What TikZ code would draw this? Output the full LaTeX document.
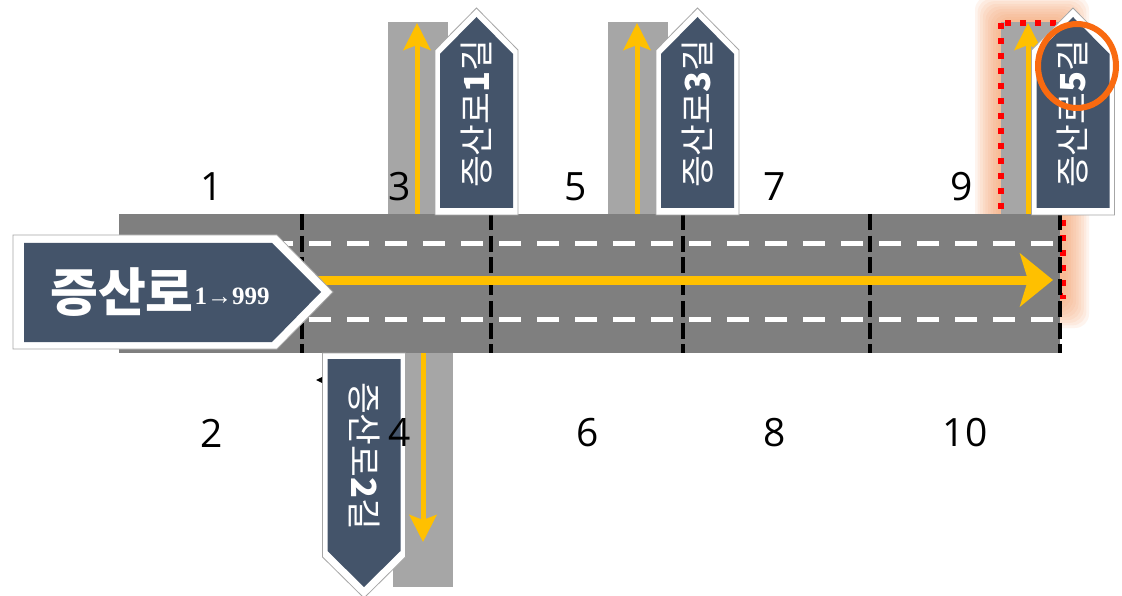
\documentclass[tikz,border=0pt]{standalone}
\usepackage{fontspec}
\newfontfamily\kr{Noto Sans CJK KR}
\newfontfamily\numfont{Open Sans}
\newfontfamily\serifb{Liberation Serif}
\usetikzlibrary{arrows.meta}
\definecolor{signblue}{HTML}{44546A}
\definecolor{roadgray}{HTML}{7F7F7F}
\definecolor{sidegray}{HTML}{A6A6A6}
\definecolor{laneyellow}{HTML}{FFC000}
\definecolor{glowcol}{HTML}{F7A26B}
\definecolor{ringorange}{HTML}{F96A10}
\begin{document}
\begin{tikzpicture}[x=1pt,y=-1pt,
  signouter/.style={fill=white, draw=black!35, line width=0.8pt},
  signinner/.style={fill=signblue},
  sidestreet/.style={fill=sidegray},
  mainroad/.style={fill=roadgray},
  lanemark/.style={draw=white, line width=5pt, dash pattern=on 22pt off 16pt},
  blockline/.style={draw=black, line width=4.5pt, dash pattern=on 16pt off 5.7pt},
  bigarrow/.style={draw=laneyellow, line width=9pt, -{Stealth[length=33pt, width=53pt, inset=8pt]}},
  smallarrow/.style={draw=laneyellow, line width=5pt, -{Stealth[length=27pt, width=27pt, inset=5pt]}},
  num/.style={inner sep=0pt, font=\numfont\fontsize{39pt}{39pt}\selectfont},
  vtext/.style={inner sep=0pt, text=white, font=\kr\fontsize{34.5pt}{34.5pt}\selectfont},
  selbox/.style={draw=red, line width=6pt, dash pattern=on 6pt off 9pt},
  ring/.style={draw=ringorange, line width=6pt}
]
\useasboundingbox (0,0) rectangle (1122,596);
\fill[white] (0,0) rectangle (1122,596);

% glow around the selected street
\foreach \i in {1,...,10} {
  \fill[glowcol, opacity=0.11, rounded corners=14pt]
    ({1001-2.6*\i},{22-2.6*\i}) rectangle ({1063+2.6*\i},{302+2.6*\i});
}

% side streets
\fill[sidestreet] (388,22) rectangle (448,214);
\fill[sidestreet] (608,22) rectangle (668,214);
\fill[sidestreet] (1001,22) rectangle (1062,214);
\fill[sidestreet] (393,353) rectangle (453,587);

% selection box
\draw[selbox] (1001,23) rectangle (1063,296);

% main road
\fill[mainroad] (119,214) rectangle (1060,353);
\draw[lanemark] (119,243.5) -- (1060,243.5);
\draw[lanemark] (119,319) -- (1060,319);
\foreach \x in {302,491,683,870,1060} {
  \draw[blockline] (\x,214) -- (\x,353);
}

% arrows
\coordinate (ms) at (305,280);
\coordinate (me) at (1053,280);
\draw[bigarrow] (ms) -- (me);
\coordinate (a1s) at (417,214);
\coordinate (a1e) at (417,23);
\draw[smallarrow] (a1s) -- (a1e);
\coordinate (a3s) at (637,214);
\coordinate (a3e) at (637,23);
\draw[smallarrow] (a3s) -- (a3e);
\coordinate (a5s) at (1028,214);
\coordinate (a5e) at (1028,23);
\draw[smallarrow] (a5s) -- (a5e);
\coordinate (a2s) at (423,353);
\coordinate (a2e) at (423,542);
\draw[smallarrow] (a2s) -- (a2e);

% main sign
\draw[signouter] (13,235) -- (277,235) -- (333,292) -- (277,349) -- (13,349) -- cycle;
\fill[signinner] (24,243) -- (272,243) -- (321,292) -- (272,342) -- (24,342) -- cycle;
\node[anchor=base west, inner sep=0pt, text=white] (mainname) at (50,311)
  {\kr\bfseries\fontsize{52pt}{52pt}\selectfont 증산로\kern1pt\raisebox{6pt}{\serifb\bfseries\fontsize{25pt}{25pt}\selectfont 1→999}};

% upward signs
\foreach \c/\n in {476.5/1, 697.5/3, 1073/5} {
  \draw[signouter] ({\c-41.5},215) -- ({\c-41.5},50) -- (\c,8) -- ({\c+41.5},50) -- ({\c+41.5},215) -- cycle;
  \fill[signinner] ({\c-36.5},208) -- ({\c-36.5},54) -- (\c,17) -- ({\c+36.5},54) -- ({\c+36.5},208) -- cycle;
  \node[vtext, rotate=90] (sign\n) at (\c,114) {증산로\textbf{\n}길};
}

% downward sign
\draw[signouter] (322.5,353) -- (405.5,353) -- (405.5,557) -- (364,598) -- (322.5,557) -- cycle;
\fill[signinner] (327.5,359) -- (400.5,359) -- (400.5,551) -- (364,587) -- (327.5,551) -- cycle;
\node[vtext, rotate=-90] (sign2) at (364,456) {증산로\textbf{2}길};

% small mark
\fill[black] (316,380) -- (322,377) -- (322,383) -- cycle;

% block numbers
\node[num] (n1) at (212,187) {1};
\node[num] (n3) at (400,187) {3};
\node[num] (n5) at (576,187) {5};
\node[num] (n7) at (775,187) {7};
\node[num] (n9) at (962,187) {9};
\node[num] (n2) at (212,433) {2};
\node[num] (n4) at (400,433) {4};
\node[num] (n6) at (588,433) {6};
\node[num] (n8) at (775,433) {8};
\node[num] (n10) at (965,433) {10};

% highlight ring
\draw[ring] (1077,66) ellipse [x radius=39pt, y radius=42pt];
\end{tikzpicture}
\end{document}
